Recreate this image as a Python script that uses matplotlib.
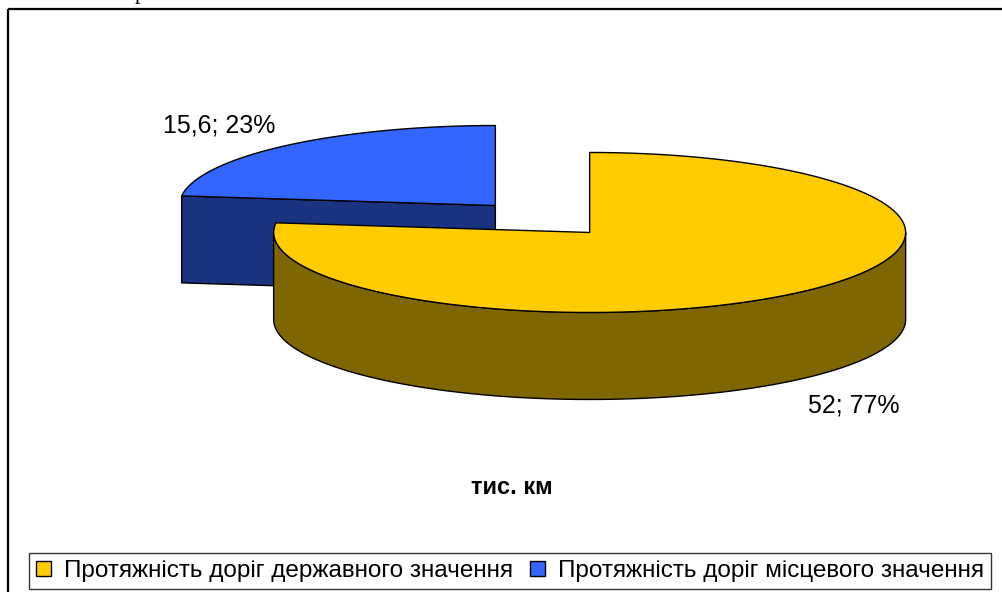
import numpy as np
import matplotlib
matplotlib.use("Agg")
import matplotlib.pyplot as plt
from matplotlib.patches import Polygon, Rectangle, Patch

plt.rcParams['font.family'] = ['Liberation Sans', 'DejaVu Sans']

# data
labels = ['Протяжність доріг державного значення', 'Протяжність доріг місцевого значення']
values = [52, 15.6]
top_colors = ['#FFCC00', '#3366FF']
side_colors = ['#806600', '#1A3380']
unit = 'тис. км'

# layout of the 3D pie (pixel units)
cx, cy = 542.5, 219.0
rx, ry = 316.0, 80.0
depth = 87.0
explode = 0.225
label_pos = [(854, 405), (219, 125)]

fig = plt.figure(figsize=(10.02, 5.92), dpi=100)
ax = fig.add_axes([0, 0, 1, 1])
ax.set_xlim(0, 1002)
ax.set_ylim(592, 0)
ax.axis('off')


def pt(x0, y0, ang, dz=0.0):
    t = np.radians(ang)
    return x0 + rx * np.sin(t), y0 - ry * np.cos(t) + dz


def arc(x0, y0, a0, a1, dz=0.0, n=120):
    angs = np.linspace(a0, a1, n)
    return [pt(x0, y0, a, dz) for a in angs]


total = sum(values)
fracs = [v / total for v in values]
starts = np.cumsum([0] + [f * 360 for f in fracs[:-1]])

slices = []
for i, f in enumerate(fracs):
    s = starts[i]
    e = s + f * 360
    mid = np.radians((s + e) / 2)
    x0 = cx + explode * rx * np.sin(mid)
    y0 = cy - explode * ry * np.cos(mid)
    slices.append((i, s, e, x0, y0))

# draw back slices first (smaller screen y of centre)
for i, s, e, x0, y0 in sorted(slices, key=lambda t: t[4]):
    kw = dict(edgecolor='black', linewidth=1.0, joinstyle='round')
    # cut faces
    for ang, nrm in ((s, s - 90), (e, e + 90)):
        if -np.cos(np.radians(nrm)) > 0.05:
            p = pt(x0, y0, ang)
            quad = [(x0, y0), p, (p[0], p[1] + depth), (x0, y0 + depth)]
            ax.add_patch(Polygon(quad, closed=True, facecolor=side_colors[i], **kw))
    # outer side (front half only)
    a0, a1 = max(s, 90), min(e, 270)
    if a1 > a0:
        pts = arc(x0, y0, a0, a1) + arc(x0, y0, a1, a0, depth)
        ax.add_patch(Polygon(pts, closed=True, facecolor=side_colors[i], **kw))
    # top face
    pts = [(x0, y0)] + arc(x0, y0, s, e)
    ax.add_patch(Polygon(pts, closed=True, facecolor=top_colors[i], **kw))

# data labels
for i, v in enumerate(values):
    txt = f"{v:g}".replace('.', ',') + f"; {round(fracs[i] * 100):.0f}%"
    ax.text(label_pos[i][0], label_pos[i][1], txt, fontsize=18,
            ha='center', va='center', color='black')

ax.text(512, 488, unit, fontsize=17, fontweight='bold', ha='center', va='center')

# chart frame and stray caption fragment above it
ax.add_patch(Rectangle((8, 9), 1100, 700, fill=False, edgecolor='black',
                       linewidth=1.6, clip_on=False))
ax.text(140, -1, 'р', fontsize=16, family='Liberation Serif',
        ha='center', va='baseline')

handles = [Patch(facecolor=top_colors[i], edgecolor='black', linewidth=1.0)
           for i in range(len(labels))]
leg = ax.legend(handles, labels, ncol=2, loc='center',
                bbox_to_anchor=(510 / 1002, 1 - 571 / 592),
                fontsize=17.5, frameon=True, fancybox=False, framealpha=1,
                edgecolor='#333333', handlelength=0.6, handleheight=0.6,
                handletextpad=0.55, columnspacing=0.7, borderpad=0.3,
                borderaxespad=0)
leg.get_frame().set_linewidth(1.0)

fig.savefig('out.png', dpi=100)
